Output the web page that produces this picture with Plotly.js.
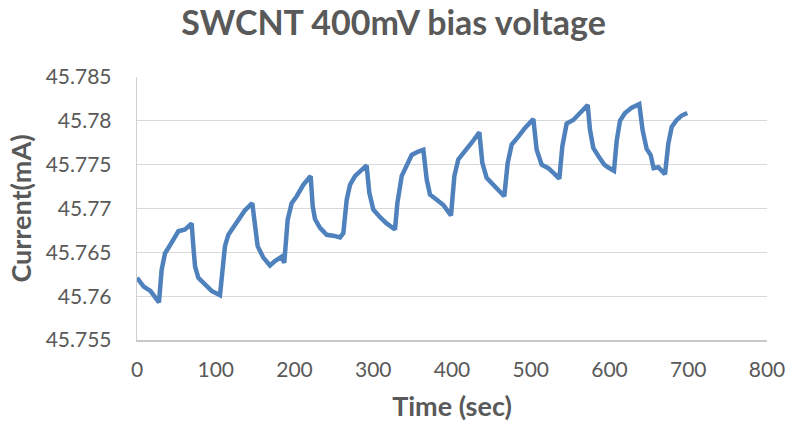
<!DOCTYPE html>
<html>
<head>
<meta charset="utf-8">
<script src="https://cdn.plot.ly/plotly-3.0.1.min.js"></script>
<style>html,body{margin:0;padding:0;background:#fff;}#chart{width:787px;height:429px;}</style>
</head>
<body>
<div id="chart"></div>
<script>
// Time (sec)
var timeSec = [0, 8.5, 17, 24, 27.9,
  31.3, 35.6, 39.8, 46.1, 52.5, 61, 69.4,
  71.5, 73.7, 77.9, 86.3, 94.8, 105.4,
  108.4, 111.7, 116, 122.3, 130.8, 137.1, 146.4,
  149.8, 153.2, 160.4, 168.9, 175.2, 183.7, 187,
  191.3, 196.4, 202.8, 211.2, 220.5,
  223.1, 226, 232.4, 240.9, 249.3, 257.8, 262,
  266.3, 270.5, 276.8, 285.3, 291.6,
  295, 300, 308.6, 317, 327.6,
  330.6, 336.1, 342.5, 348.8, 357.3, 363.6,
  367.9, 372, 380.6, 389, 398.7,
  403, 408, 416.5, 425, 434.7,
  438.5, 444, 452.5, 461, 466.4,
  470.7, 475.8, 484.2, 492.7, 503.3,
  507.5, 513.9, 522.3, 530.8, 536.3,
  540.1, 545.6, 554, 562.5, 572.3,
  575.2, 579.4, 585.8, 593.4, 598, 605.7,
  609.1, 613.3, 619.7, 628.2, 637.8,
  642.1, 647.2, 652.3, 656, 662, 670.5,
  674.7, 679, 685.3, 691.6, 698.8];
// Current (mA)
var currentMA = [45.7621, 45.7611, 45.7606, 45.7597, 45.7593,
  45.7630, 45.7649, 45.7655, 45.7664, 45.7674, 45.7676, 45.7683,
  45.7657, 45.7634, 45.7621, 45.7614, 45.7606, 45.7601,
  45.7623, 45.7657, 45.7670, 45.7679, 45.7691, 45.7698, 45.7706,
  45.7676, 45.7657, 45.7644, 45.7635, 45.7640, 45.7645, 45.7638,
  45.7687, 45.7706, 45.7714, 45.7727, 45.7737,
  45.7703, 45.7688, 45.7678, 45.7670, 45.7669, 45.7667, 45.7672,
  45.7710, 45.7727, 45.7737, 45.7744, 45.7749,
  45.7718, 45.7699, 45.7690, 45.7683, 45.7676,
  45.7706, 45.7737, 45.7748, 45.7761, 45.7765, 45.7767,
  45.7733, 45.7716, 45.7710, 45.7704, 45.7692,
  45.7737, 45.7756, 45.7765, 45.7775, 45.7787,
  45.7752, 45.7735, 45.7727, 45.7720, 45.7714,
  45.7752, 45.7773, 45.7782, 45.7792, 45.7802,
  45.7767, 45.7750, 45.7746, 45.7739, 45.7734,
  45.7771, 45.7797, 45.7801, 45.7809, 45.7818,
  45.7790, 45.7769, 45.7760, 45.7750, 45.7747, 45.7743,
  45.7777, 45.7800, 45.7809, 45.7815, 45.7819,
  45.7789, 45.7768, 45.7761, 45.7746, 45.7747, 45.7739,
  45.7774, 45.7793, 45.7801, 45.7806, 45.7809];
var yTickVals = [45.755, 45.76, 45.765, 45.77, 45.775, 45.78, 45.785];
var yTickText = ["45.755", "45.76", "45.765", "45.77", "45.775", "45.78", "45.785"];
var xTickVals = [0, 100, 200, 300, 400, 500, 600, 700, 800];

var fontFam = "Lato, 'Open Sans', sans-serif";
var grey = "#595959";

Plotly.newPlot("chart", [{
  x: timeSec, y: currentMA, type: "scatter", mode: "lines",
  line: {color: "#4F81BD", width: 4.5},
  hoverinfo: "skip"
}], {
  width: 787, height: 429,
  margin: {l: 137, r: 20, t: 77, b: 89},
  paper_bgcolor: "#fff", plot_bgcolor: "#fff",
  showlegend: false,
  title: {text: "<b>SWCNT 400mV bias voltage</b>", x: 0.5, xanchor: "center", y: 0.945, yanchor: "middle",
    font: {family: fontFam, size: 34, color: grey}},
  xaxis: {range: [0, 800], tickvals: xTickVals, showgrid: false, zeroline: false,
    showline: true, linecolor: "#c8c8c8", linewidth: 1.5,
    ticks: "outside", ticklen: 10, tickcolor: "rgba(0,0,0,0)",
    tickfont: {family: fontFam, size: 21, color: grey},
    title: {text: "<b>Time (sec)</b>", standoff: 17, font: {family: fontFam, size: 27, color: grey}}},
  yaxis: {range: [45.755, 45.785], tickvals: yTickVals, ticktext: yTickText,
    showgrid: true, gridcolor: "#d9d9d9", gridwidth: 1.3, zeroline: false,
    showline: true, linecolor: "#d0d0d0", linewidth: 1.3,
    ticks: "outside", ticklen: 20, tickcolor: "rgba(0,0,0,0)",
    tickfont: {family: fontFam, size: 21, color: grey},
    title: {text: "<b>Current(mA)</b>", standoff: 6, font: {family: fontFam, size: 27, color: grey}}}
}, {displayModeBar: false, staticPlot: true});
</script>
</body>
</html>
